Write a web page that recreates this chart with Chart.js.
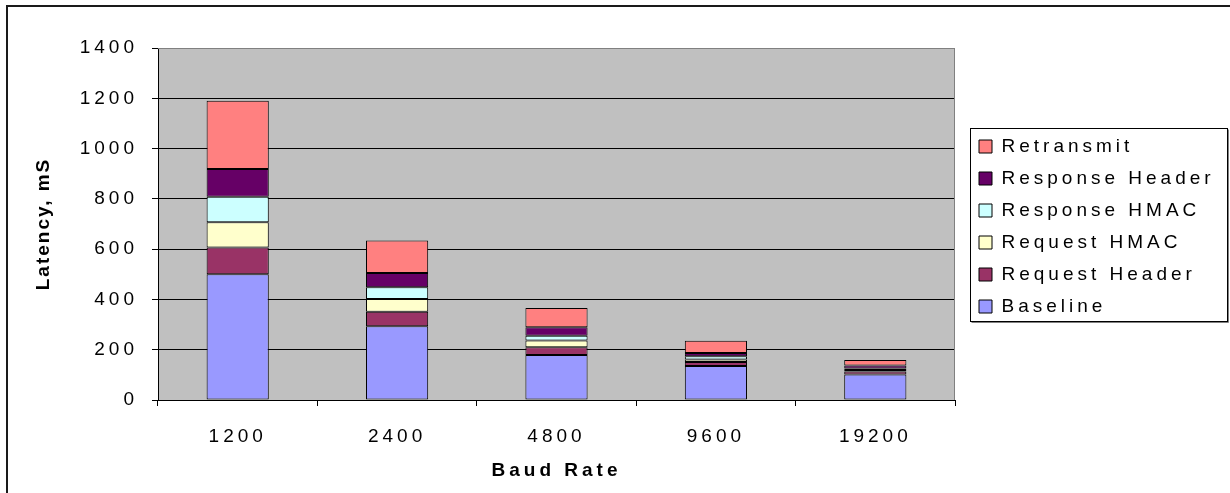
<!DOCTYPE html>
<html>
<head>
<meta charset="utf-8">
<script src="https://cdn.jsdelivr.net/npm/chart.js@4/dist/chart.umd.min.js"></script>
<style>
  html, body { margin: 0; padding: 0; background: #ffffff; }
  #wrap { width: 1230px; height: 493px; }
</style>
</head>
<body>
<div id="wrap"><canvas id="chart" width="1230" height="493"></canvas></div>
<script>
// Baud rates on the category axis
const baudRates = ['1200', '2400', '4800', '9600', '19200'];

// Latency components in milliseconds, stacked bottom to top
const baseline       = [500, 293, 179, 135, 101];
const requestHeader  = [107, 58, 31, 16, 12];
const requestHmac    = [100, 51, 27, 10, 6];
const responseHmac   = [101, 46, 19, 13, 6];
const responseHeader = [111, 57, 33, 13, 12];
const retransmit     = [271, 129, 77, 49, 22];

// Value axis ticks
const yTicks = [0, 200, 400, 600, 800, 1000, 1200, 1400];

const FONT = 'Liberation Sans, Arial, Helvetica, sans-serif';
const SPACING = '4px';

// Grey plot background, frame, legend box and outer border
const decorations = {
  id: 'decorations',
  beforeLayout(chart) { chart.ctx.letterSpacing = SPACING; },
  afterLayout(chart) {
    const lg = chart.legend;
    if (lg) {
      const dx = 966 - lg.left;
      const dy = 124 - lg.top;
      lg.left += dx; lg.right += dx;
      lg.top += dy; lg.bottom += dy;
      if (lg.legendHitBoxes) {
        lg.legendHitBoxes.forEach(h => { h.left += dx; h.top += dy; });
      }
    }
    // vertical axis title uses tighter letter spacing
    const ys = chart.scales.y;
    if (ys && !ys._titlePatched) {
      const orig = ys.drawTitle;
      ys.drawTitle = function () {
        const c = this.ctx;
        const prev = c.letterSpacing;
        c.letterSpacing = '2px';
        orig.apply(this, arguments);
        c.letterSpacing = prev;
      };
      ys._titlePatched = true;
    }
  },
  beforeDraw(chart) {
    const { ctx, chartArea: a } = chart;
    ctx.letterSpacing = SPACING;
    ctx.save();
    ctx.fillStyle = '#ffffff';
    ctx.fillRect(0, 0, chart.width, chart.height);
    ctx.fillStyle = '#c0c0c0';
    ctx.fillRect(a.left, a.top, a.right - a.left, a.bottom - a.top);
    // outer frame (top and left edges)
    ctx.strokeStyle = '#1a1a1a';
    ctx.lineWidth = 2;
    ctx.beginPath();
    ctx.moveTo(7, chart.height);
    ctx.lineTo(7, 6);
    ctx.lineTo(chart.width, 6);
    ctx.stroke();
    ctx.restore();
  },
  beforeDatasetsDraw(chart) {
    const { ctx, chartArea: a } = chart;
    ctx.save();
    ctx.strokeStyle = '#808080';
    ctx.lineWidth = 1;
    ctx.beginPath();
    ctx.moveTo(a.left, a.top + 0.5);
    ctx.lineTo(a.right - 0.5, a.top + 0.5);
    ctx.lineTo(a.right - 0.5, a.bottom);
    ctx.stroke();
    ctx.restore();
  },
  afterDraw(chart) {
    const { ctx } = chart;
    if (!chart.legend) return;
    ctx.save();
    const x = 970.5, y = 128.5, w = 257, h = 193;
    ctx.strokeStyle = '#808080';
    ctx.lineWidth = 1;
    ctx.beginPath();
    ctx.moveTo(x + 1, y + h + 1);
    ctx.lineTo(x + w + 1, y + h + 1);
    ctx.lineTo(x + w + 1, y + 1);
    ctx.stroke();
    ctx.strokeStyle = '#000000';
    ctx.strokeRect(x, y, w, h);
    ctx.restore();
  }
};

const mk = (label, data, color) => ({
  label, data,
  backgroundColor: color,
  borderColor: '#000000',
  borderWidth: 1,
  borderSkipped: false,
  barPercentage: 0.39,
  categoryPercentage: 1.0
});

new Chart(document.getElementById('chart'), {
  type: 'bar',
  data: {
    labels: baudRates,
    datasets: [
      mk('Baseline', baseline, '#9999ff'),
      mk('Request Header', requestHeader, '#993366'),
      mk('Request HMAC', requestHmac, '#ffffcc'),
      mk('Response HMAC', responseHmac, '#ccffff'),
      mk('Response Header', responseHeader, '#660066'),
      mk('Retransmit', retransmit, '#ff8080')
    ]
  },
  options: {
    responsive: false,
    animation: false,
    layout: { padding: { left: 0, top: 48, right: 20, bottom: 0 } },
    plugins: {
      tooltip: { enabled: false },
      legend: {
        position: 'right',
        align: 'start',
        fullSize: false,
        reverse: true,
        maxWidth: 255,
        labels: {
          color: '#000000',
          font: { family: FONT, size: 19, lineHeight: 1 },
          boxWidth: 13,
          boxHeight: 13,
          padding: 13
        }
      }
    },
    scales: {
      x: {
        stacked: true,
        afterFit(s) { s.height = 93; },
        grid: {
          offset: true,
          drawOnChartArea: false,
          drawTicks: true,
          tickLength: 6,
          tickColor: '#000000',
          tickWidth: 1
        },
        border: { display: true, color: '#000000', width: 1 },
        ticks: {
          color: '#000000',
          font: { family: FONT, size: 19 },
          padding: 19,
          maxRotation: 0
        },
        title: {
          display: true,
          text: 'Baud Rate',
          color: '#000000',
          font: { family: FONT, size: 19, weight: 'bold' },
          padding: { top: 0, bottom: 11 }
        }
      },
      y: {
        stacked: true,
        min: 0,
        max: 1400,
        afterFit(s) { s.width = 158; },
        afterBuildTicks(s) { s.ticks = yTicks.map(v => ({ value: v })); },
        grid: {
          color: ctx => (ctx.tick && ctx.tick.value === 1400) ? '#808080' : '#000000',
          lineWidth: 1,
          drawTicks: true,
          tickLength: 6,
          tickColor: '#000000'
        },
        border: { display: true, color: '#000000', width: 1 },
        ticks: {
          color: '#000000',
          font: { family: FONT, size: 19 },
          padding: 14,
          callback: v => String(v)
        },
        title: {
          display: true,
          text: 'Latency, mS',
          color: '#000000',
          font: { family: FONT, size: 19, weight: 'bold' },
          padding: { top: 32, bottom: 0 }
        }
      }
    }
  },
  plugins: [decorations]
});
</script>
</body>
</html>
